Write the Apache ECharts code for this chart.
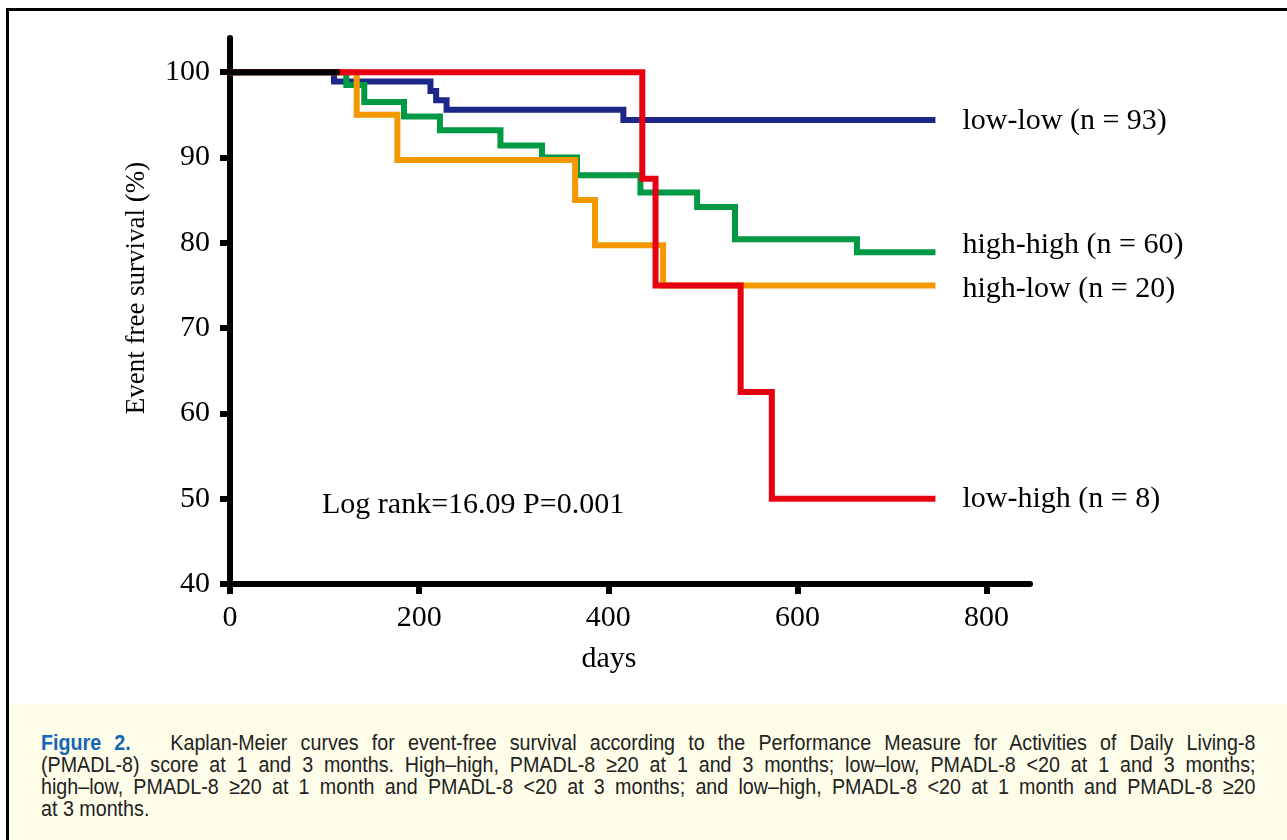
<!DOCTYPE html>
<html lang="en">
<head>
    <meta charset="UTF-8">
    <title>Figure 2</title>
    <script src="https://cdn.jsdelivr.net/npm/echarts@6/dist/echarts.min.js"></script>
    <style>
        html, body { margin: 0; padding: 0; background: #fff; }
        #wrap { position: relative; width: 1287px; height: 840px; overflow: hidden; }
        #chart { position: absolute; left: 0; top: 0; width: 1287px; height: 840px; }
        .bar-top { position: absolute; left: 6px; top: 8px; width: 1281px; height: 3px; background: #000; }
        .bar-left { position: absolute; left: 6px; top: 8px; width: 3px; height: 832px; background: #000; }
        #caption {
            position: absolute; left: 9px; top: 704px; width: 1278px; height: 136px;
            background: #fefde9; box-sizing: border-box; padding: 28px 0 0 32px;
            font-family: "Liberation Sans", Arial, sans-serif; font-size: 22px; line-height: 22px; color: #222;
        }
        /* squeeze the lines a bit so they look like the narrow journal face */
        #caption .ln {
            width: 1357px; white-space: nowrap; text-align: justify; text-align-last: justify;
            transform: scaleX(0.895); transform-origin: 0 0;
        }
        #caption .ln.last { text-align-last: left; }
        #caption b { color: #1465b4; }
    </style>
</head>
<body>
<div id="wrap">
    <div id="chart"></div>
    <div class="bar-top"></div>
    <div class="bar-left"></div>
    <div id="caption">
        <div class="ln"><b>Figure 2.</b>&nbsp;&nbsp; Kaplan-Meier curves for event-free survival according to the Performance Measure for Activities of Daily Living-8</div>
        <div class="ln">(PMADL-8) score at 1 and 3 months. High–high, PMADL-8 ≥20 at 1 and 3 months; low–low, PMADL-8 &lt;20 at 1 and 3 months;</div>
        <div class="ln">high–low, PMADL-8 ≥20 at 1 month and PMADL-8 &lt;20 at 3 months; and low–high, PMADL-8 &lt;20 at 1 month and PMADL-8 ≥20</div>
        <div class="ln last">at 3 months.</div>
    </div>
</div>
<script type="text/javascript">
    // [days, event free survival %] - step points
    var lowLow = [[0, 100], [110, 98.9], [212, 97.8], [218, 96.7], [229, 95.6], [416, 94.4], [746, 94.4]];
    var highHigh = [[0, 100], [123, 98.5], [142, 96.5], [184, 94.8], [222, 93.2], [286, 91.4], [330, 90.0],
        [367, 87.9], [434, 85.9], [494, 84.2], [534, 80.4], [663, 78.9], [746, 78.9]];
    var highLow = [[0, 100], [134, 95], [177, 89.7], [365, 85], [386, 79.7], [458, 75], [746, 75]];
    var lowHigh = [[0, 100], [436, 87.5], [450, 75], [540, 62.5], [573, 50], [746, 50]];
    var common = [[0, 100], [116, 100]];

    var groupNames = ['low-low (n = 93)', 'high-high (n = 60)', 'high-low (n = 20)', 'low-high (n = 8)'];
    var groupColors = ['#1d2787', '#009944', '#f39800', '#e60012'];
    var labelShift = [1, -7, 4, 0];

    var xTicks = [0, 200, 400, 600, 800];
    var yTicks = [40, 50, 60, 70, 80, 90, 100];

    var serif = '"Liberation Serif", "Times New Roman", serif';

    function kmSeries(name, data, i) {
        return {
            name: name,
            type: 'line',
            step: 'end',
            data: data,
            symbol: 'none',
            animation: false,
            lineStyle: { color: groupColors[i], width: 6, cap: 'butt', join: 'miter' },
            endLabel: {
                show: true,
                formatter: name,
                distance: 27,
                offset: [0, labelShift[i]],
                color: '#000',
                fontFamily: serif,
                fontSize: 30
            }
        };
    }

    var myChart = echarts.init(document.getElementById('chart'));

    var option = {
        animation: false,
        grid: { left: 230, right: 257, top: 38, bottom: 256 },
        xAxis: {
            type: 'value', min: 0, max: 846, interval: 200,
            name: 'days', nameLocation: 'middle', nameGap: 60,
            nameTextStyle: { fontFamily: serif, fontSize: 30, color: '#000', padding: [0, 42, 0, 0] },
            axisLine: { lineStyle: { color: '#000', width: 6 } },
            axisTick: { show: true, length: 10, customValues: xTicks, lineStyle: { color: '#000', width: 6 } },
            axisLabel: { customValues: xTicks, margin: 19, fontFamily: serif, fontSize: 30, color: '#000' },
            splitLine: { show: false }
        },
        yAxis: {
            type: 'value', min: 40, max: 104, interval: 10,
            name: 'Event free survival (%)', nameLocation: 'middle', nameGap: 80, nameRotate: 90,
            nameTextStyle: { fontFamily: serif, fontSize: 27, color: '#000', padding: [0, 0, 0, 46] },
            axisLine: { show: true, lineStyle: { color: '#000', width: 6 } },
            axisTick: { show: true, length: 10, customValues: yTicks, lineStyle: { color: '#000', width: 6 } },
            axisLabel: { customValues: yTicks, margin: 20, fontFamily: serif, fontSize: 30, color: '#000' },
            splitLine: { show: false }
        },
        graphic: [{
            type: 'text', left: 322, top: 490,
            style: { text: 'Log rank=16.09 P=0.001', fill: '#000', font: '30px ' + serif }
        }],
        series: [
            kmSeries(groupNames[0], lowLow, 0),
            kmSeries(groupNames[1], highHigh, 1),
            kmSeries(groupNames[2], highLow, 2),
            kmSeries(groupNames[3], lowHigh, 3),
            {
                name: 'all', type: 'line', data: common, symbol: 'none', animation: false,
                lineStyle: { color: '#000', width: 6, cap: 'butt' }
            }
        ]
    };

    myChart.setOption(option);
</script>
</body>
</html>
